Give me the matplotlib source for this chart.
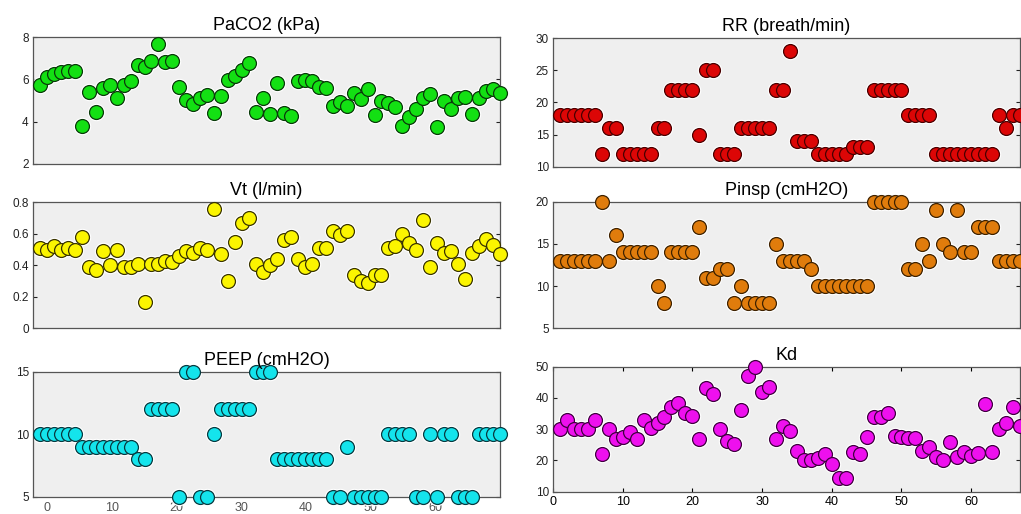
import numpy as np
import matplotlib
matplotlib.use('Agg')
from matplotlib import pyplot as plt

plt.rcParams.update({'font.family': ['Liberation Sans', 'DejaVu Sans'], 'font.size': 8.5})

# sample index (1..67) for every panel
idx = np.arange(1, 68)

paco2 = [5.74, 6.14, 6.26, 6.37, 6.42, 6.40, 3.80, 5.43, 4.48, 5.58, 5.74, 5.14, 5.74, 5.95,
         6.69, 6.61, 6.89, 7.68, 6.85, 6.89, 5.63, 5.03, 4.84, 5.11, 5.27, 4.43, 5.24, 5.98,
         6.17, 6.45, 6.80, 4.48, 5.11, 4.37, 5.82, 4.40, 4.29, 5.95, 5.98, 5.95, 5.63, 5.58,
         4.75, 4.95, 4.75, 5.35, 5.06, 5.54, 4.32, 5.00, 4.87, 4.68, 3.80, 4.21, 4.59, 5.11,
         5.30, 3.77, 4.98, 4.59, 5.11, 5.19, 4.37, 5.11, 5.47, 5.54, 5.38]
vt = [0.51, 0.50, 0.52, 0.50, 0.51, 0.50, 0.58, 0.39, 0.37, 0.49, 0.40, 0.50, 0.39, 0.39,
      0.41, 0.17, 0.41, 0.41, 0.43, 0.42, 0.46, 0.49, 0.48, 0.51, 0.50, 0.76, 0.47, 0.30,
      0.55, 0.67, 0.70, 0.41, 0.36, 0.40, 0.44, 0.56, 0.58, 0.44, 0.39, 0.41, 0.51, 0.51,
      0.62, 0.59, 0.62, 0.34, 0.30, 0.29, 0.34, 0.34, 0.51, 0.52, 0.60, 0.54, 0.50, 0.69,
      0.39, 0.54, 0.48, 0.49, 0.41, 0.31, 0.48, 0.52, 0.57, 0.53, 0.47]
peep = [10, 10, 10, 10, 10, 10, 9, 9, 9, 9, 9, 9, 9, 9, 8, 8, 12, 12, 12, 12, 5, 15, 15, 5,
        5, 10, 12, 12, 12, 12, 12, 15, 15, 15, 8, 8, 8, 8, 8, 8, 8, 8, 5, 5, 9, 5, 5, 5, 5,
        5, 10, 10, 10, 10, 5, 5, 10, 5, 10, 10, 5, 5, 5, 10, 10, 10, 10]
rr = [18, 18, 18, 18, 18, 18, 12, 16, 16, 12, 12, 12, 12, 12, 16, 16, 22, 22, 22, 22, 15,
      25, 25, 12, 12, 12, 16, 16, 16, 16, 16, 22, 22, 28, 14, 14, 14, 12, 12, 12, 12, 12,
      13, 13, 13, 22, 22, 22, 22, 22, 18, 18, 18, 18, 12, 12, 12, 12, 12, 12, 12, 12, 12,
      18, 16, 18, 18]
pinsp = [13, 13, 13, 13, 13, 13, 20, 13, 16, 14, 14, 14, 14, 14, 10, 8, 14, 14, 14, 14, 17,
         11, 11, 12, 12, 8, 10, 8, 8, 8, 8, 15, 13, 13, 13, 13, 12, 10, 10, 10, 10, 10, 10,
         10, 10, 20, 20, 20, 20, 20, 12, 12, 15, 13, 19, 15, 14, 19, 14, 14, 17, 17, 17, 13,
         13, 13, 13]
kd = [30, 33, 30, 30, 30, 33, 22, 30, 27, 27.5, 29, 27, 33, 30.5, 32, 34, 37, 38.3, 35.3,
      34.2, 27, 43.3, 41.3, 30, 26.3, 25.3, 36.3, 47, 50, 42, 43.4, 27, 31, 29.5, 23, 20,
      20, 20.7, 22, 19, 14.3, 14.3, 22.8, 22, 27.4, 34, 34, 35.3, 27.8, 27.4, 27.1, 27.1,
      23.1, 24.2, 21.2, 20, 26, 21, 22.8, 21.4, 22.3, 38, 22.8, 30, 32, 37, 31]

xticks = [0, 10, 20, 30, 40, 50, 60]

panels = [
    # title, data, colour, edge, yticks, ylim, rect
    ('PaCO2 (kPa)', paco2, '#13e013', '#0a3a0a', [2, 4, 6, 8], (2, 8),
     [0.0323, 0.681, 0.4574, 0.2465]),
    ('Vt (l/min)', vt, '#fbf500', '#3a3500', [0, 0.2, 0.4, 0.6, 0.8], (0, 0.8),
     [0.0323, 0.3613, 0.4574, 0.2451]),
    ('PEEP (cmH2O)', peep, '#14e4ec', '#083a40', [5, 10, 15], (5, 15),
     [0.0323, 0.0337, 0.4574, 0.2432]),
    ('RR (breath/min)', rr, '#dc0606', '#4a0000', [10, 15, 20, 25, 30], (10, 30),
     [0.5416, 0.6757, 0.4574, 0.2498]),
    ('Pinsp (cmH2O)', pinsp, '#e07c0c', '#3f2200', [5, 10, 15, 20], (5, 20),
     [0.5416, 0.3613, 0.4574, 0.2463]),
    ('Kd', kd, '#ee10ee', '#400040', [10, 20, 30, 40, 50], (10, 50),
     [0.5416, 0.0434, 0.4574, 0.2432]),
]

fig = plt.figure(figsize=(10.21, 5.14), dpi=100)

for i, (title, y, col, edge, yt, yl, rect) in enumerate(panels):
    ax = fig.add_axes(rect)
    ax.set_facecolor('#efefef')
    # white glow behind markers, then the markers
    ax.plot(idx, y, 'o', ms=12.6, color='white', mew=0, clip_on=False, zorder=2)
    ax.plot(idx, y, 'o', ms=10, mfc=col, mec=edge, mew=0.9, clip_on=False, zorder=3)
    ax.set_xlim(0, 67)
    ax.set_ylim(*yl)
    ax.set_yticks(yt)
    ax.set_yticklabels(['0' if v == 0 else f'{v:g}' for v in yt])
    ax.tick_params(axis='y', direction='in', length=3, right=True, pad=3, colors='#222222')
    ax.set_title(title, fontsize=13, pad=5)
    for s in ax.spines.values():
        s.set_color('#555555')
        s.set_linewidth(0.9)
    if i == 2:
        # labels of the lower-left panel sit on a slightly wider scale
        ax.set_xticks([(t + 2.2) * 67 / 72.2 for t in xticks])
        ax.set_xticklabels([str(t) for t in xticks])
        ax.tick_params(axis='x', length=0, pad=4, labelcolor='#555555', labelsize=9)
    elif i == 5:
        ax.set_xticks(xticks)
        ax.tick_params(axis='x', direction='in', length=3, top=True, pad=3, labelsize=9)
    else:
        ax.set_xticks([])

fig.savefig('out.png', dpi=100)
